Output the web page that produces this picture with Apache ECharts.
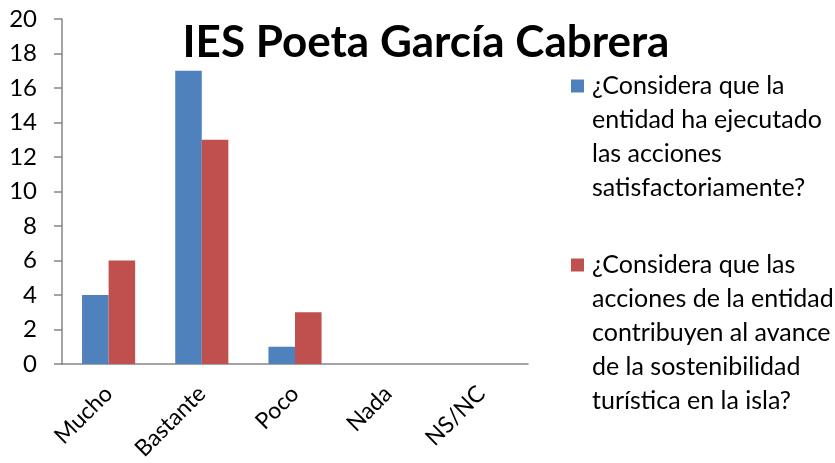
<!DOCTYPE html>
<html>
<head>
<meta charset="utf-8">
<script src="https://cdn.jsdelivr.net/npm/echarts@6/dist/echarts.min.js"></script>
<style>
  html, body { margin: 0; padding: 0; background: #fff; }
  #chart { width: 835px; height: 463px; }
</style>
</head>
<body>
<div id="chart"></div>
<script>
const categories = ['Mucho', 'Bastante', 'Poco', 'Nada', 'NS/NC'];
const ejecutado = [4, 17, 1, 0, 0];
const contribuyen = [6, 13, 3, 0, 0];
const seriesNames = [
  '¿Considera que la entidad ha ejecutado las acciones satisfactoriamente?',
  '¿Considera que las acciones de la entidad contribuyen al avance de la sostenibilidad turística en la isla?'
];
const legendLines = [
  ['¿Considera que la', 'entidad ha ejecutado', 'las acciones', 'satisfactoriamente?'],
  ['¿Considera que las', 'acciones de la entidad', 'contribuyen al avance', 'de la sostenibilidad', 'turística en la isla?']
];

const FONT = 'Lato';
const colors = ['#4F81BD', '#C0504D'];

const chart = echarts.init(document.getElementById('chart'));

const option = {
  animation: false,
  title: {
    text: 'IES Poeta García Cabrera',
    left: 421,
    textAlign: 'center',
    top: 16,
    textStyle: { fontFamily: FONT, fontWeight: 'bold', fontSize: 44, color: '#000' }
  },
  grid: { left: 62, top: 19, right: 307, bottom: 99 },
  legend: {
    orient: 'vertical',
    left: 561,
    top: 64,
    itemGap: 43,
    icon: 'none',
    itemWidth: 0,
    itemHeight: 14,
    selectedMode: false,
    data: seriesNames,
    formatter: function (name) {
      const idx = seriesNames.indexOf(name);
      const key = idx === 0 ? 'a' : 'b';
      return legendLines[idx].map((line, i) =>
        (i === 0 ? '{' + key + '|}{sp|}' : '{ind|}') + '{t|' + line + '}'
      ).join('\n');
    },
    textStyle: {
      fontFamily: FONT,
      fontSize: 25,
      color: '#000',
      lineHeight: 34,
      rich: {
        a: { width: 13, height: 13, backgroundColor: colors[0] },
        b: { width: 13, height: 13, backgroundColor: colors[1] },
        sp: { width: 8 },
        ind: { width: 21 },
        t: { fontFamily: FONT, fontSize: 25, color: '#000', lineHeight: 34 }
      }
    }
  },
  xAxis: {
    type: 'category',
    data: categories,
    axisLine: { lineStyle: { color: '#868686', width: 1.5 } },
    axisTick: { length: 8, lineStyle: { color: '#868686', width: 1.5 } },
    axisLabel: { rotate: 45, margin: 26, fontFamily: FONT, fontSize: 23, color: '#000' }
  },
  yAxis: {
    type: 'value',
    min: 0,
    max: 20,
    interval: 2,
    splitLine: { show: false },
    axisLine: { show: true, lineStyle: { color: '#868686', width: 1.5 } },
    axisTick: { show: true, length: 8, lineStyle: { color: '#868686', width: 1.5 } },
    axisLabel: { margin: 25, fontFamily: FONT, fontSize: 24, color: '#000' }
  },
  series: [
    {
      name: seriesNames[0],
      type: 'bar',
      data: ejecutado,
      barGap: '0%',
      barCategoryGap: '43%',
      itemStyle: { color: colors[0] }
    },
    {
      name: seriesNames[1],
      type: 'bar',
      data: contribuyen,
      itemStyle: { color: colors[1] }
    }
  ]
};

chart.setOption(option);
</script>
</body>
</html>
